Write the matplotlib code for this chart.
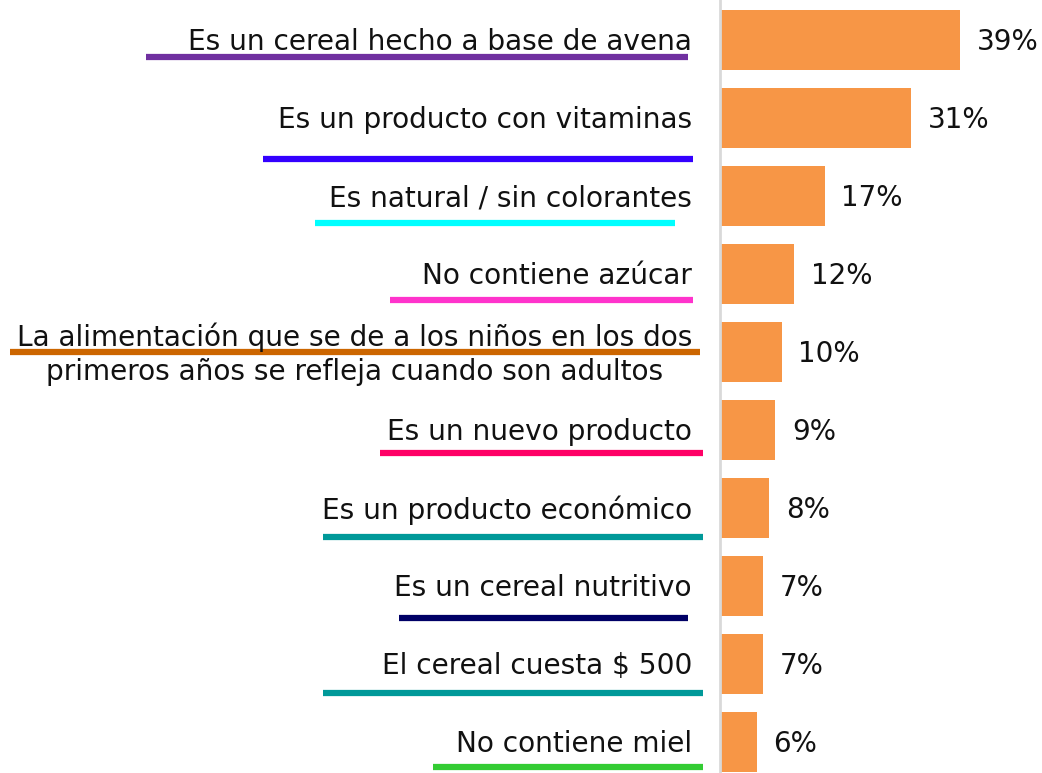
import matplotlib
matplotlib.use("Agg")
import matplotlib.pyplot as plt
from matplotlib.transforms import blended_transform_factory

plt.rcParams["font.family"] = ["DejaVu Sans"]

labels = [
    "Es un cereal hecho a base de avena",
    "Es un producto con vitaminas",
    "Es natural / sin colorantes",
    "No contiene azúcar",
    "La alimentación que se de a los niños en los dos\nprimeros años se refleja cuando son adultos",
    "Es un nuevo producto",
    "Es un producto económico",
    "Es un cereal nutritivo",
    "El cereal cuesta $ 500",
    "No contiene miel",
]
values = [39, 31, 17, 12, 10, 9, 8, 7, 7, 6]

# decorative underlines under each label (figure pixels, from top-left)
line_colors = ["#7030A0", "#3300FF", "#00FFFF", "#FF33CC", "#CC6600",
               "#FF0066", "#009999", "#000066", "#009999", "#33CC33"]
line_x = [(146, 688), (263, 693), (315, 675), (390, 693), (10, 700),
          (380, 703), (323, 703), (399, 688), (323, 703), (433, 703)]
line_y = [57, 159, 223, 300, 352, 453, 537, 618, 693, 767]

W, H = 1042, 773
fig = plt.figure(figsize=(W / 100, H / 100), dpi=100)

# overlay in pixel coords for the underlines
ov = fig.add_axes([0, 0, 1, 1])
ov.set_xlim(0, W)
ov.set_ylim(H, 0)
ov.axis("off")
for c, (x0, x1), y in zip(line_colors, line_x, line_y):
    ov.plot([x0, x1], [y, y], color=c, lw=4.5, solid_capstyle="butt")

ax = fig.add_axes([720 / W, 0, (W - 720) / W, 1])
pos = list(range(len(values)))
ax.barh(pos, values, height=0.77, color="#F79646")
ax.set_xlim(0, 52.3)
ax.set_ylim(9.40, -0.513)
ax.set_xticks([])
ax.set_yticks([])
for s in ["top", "right", "bottom"]:
    ax.spines[s].set_visible(False)
ax.spines["left"].set_color("#D9D9D9")
ax.spines["left"].set_linewidth(2)
ax.patch.set_alpha(0)

for p, v in zip(pos, values):
    ax.text(v + 2.7, p + 0.03, f"{v}%", va="center", ha="left", fontsize=20,
            color="#111111")

tr = blended_transform_factory(fig.transFigure, ax.transData)
for p, lab in zip(pos, labels):
    ax.text(692 / W, p + 0.03, lab, transform=tr, ha="right", va="center",
            multialignment="center", fontsize=20.2, color="#111111",
            linespacing=1.3)

fig.savefig("out.png", dpi=100)
